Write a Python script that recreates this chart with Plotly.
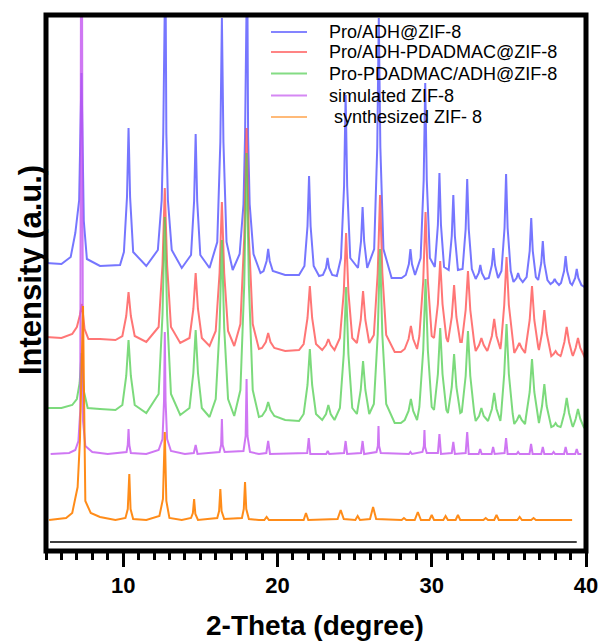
import plotly.graph_objects as go

# ---- data (2-Theta in degrees, intensity in arbitrary units) ----
NAMES = ["Pro/ADH@ZIF-8", "Pro/ADH-PDADMAC@ZIF-8", "Pro-PDADMAC/ADH@ZIF-8",
         "simulated ZIF-8", " synthesized ZIF- 8"]

BLUE_X = [5.0, 6.0, 6.6, 6.9, 7.15, 7.3, 7.45, 7.65, 8.5, 9.8,
          10.05, 10.25, 10.35, 10.45, 10.65, 11.5,
          12.25, 12.5, 12.6, 12.66, 12.74, 12.8, 12.9, 13.15, 13.8,
          14.4, 14.6, 14.7, 14.8, 15.0, 15.6,
          16.1, 16.3, 16.4, 16.5, 16.7, 17.1,
          17.55, 17.8, 17.9, 17.96, 18.04, 18.1, 18.2, 18.45, 18.9,
          19.1, 19.3, 19.4, 19.5, 19.7, 20.5, 21.4,
          21.75, 21.95, 22.05, 22.15, 22.35, 22.7,
          22.95, 23.15, 23.25, 23.35, 23.55, 23.85,
          24.12, 24.32, 24.42, 24.52, 24.72,
          25.22, 25.42, 25.52, 25.62, 25.82,
          26.27, 26.47, 26.57, 26.67, 26.87, 27.4, 28.05,
          28.32, 28.52, 28.62, 28.72, 28.92,
          29.28, 29.48, 29.58, 29.68, 29.88,
          30.2, 30.4, 30.5, 30.6, 30.8,
          31.1, 31.3, 31.4, 31.5, 31.7,
          32.0, 32.2, 32.3, 32.4, 32.6,
          32.85, 33.05, 33.15, 33.25, 33.45,
          33.7, 33.9, 34.0, 34.1, 34.3,
          34.52, 34.72, 34.82, 34.92, 35.12,
          35.3, 35.5, 35.6, 35.7, 35.9,
          36.15, 36.35, 36.45, 36.55, 36.75,
          36.9, 37.1, 37.2, 37.3, 37.5,
          37.7, 37.87, 37.97, 38.07, 38.25,
          38.38, 38.58, 38.68, 38.78, 38.98,
          39.1, 39.3, 39.4, 39.5, 39.7, 40.0]
BLUE_Y = [288, 287, 294, 318, 351, 478, 330, 292, 285, 286,
          299, 354, 423, 354, 299, 285,
          301, 351, 418, 600, 600, 418, 351, 301, 283,
          296, 350, 417, 350, 296, 283,
          309, 409, 533, 409, 309, 281,
          297, 347, 414, 600, 600, 414, 347, 297, 278,
          280, 290, 302, 290, 280, 276, 276,
          285, 325, 375, 325, 285, 275,
          276, 283, 293, 283, 276, 275,
          293, 365, 456, 365, 293,
          283, 310, 344, 310, 283,
          302, 404, 533, 404, 302, 273, 273,
          276, 287, 302, 287, 276,
          293, 371, 468, 371, 293,
          284, 326, 378, 326, 284,
          281, 315, 356, 315, 281,
          282, 322, 372, 322, 282,
          272, 278, 286, 278, 272,
          273, 286, 303, 286, 273,
          280, 323, 377, 323, 280,
          269, 273, 278, 273, 269,
          274, 300, 333, 300, 274,
          271, 288, 310, 288, 271,
          267, 269, 272, 269, 266,
          268, 280, 295, 280, 268,
          266, 273, 282, 273, 266, 263]

RED_X = [5.0, 6.0, 6.7, 7.0, 7.2, 7.33, 7.5, 7.75, 8.5, 9.5,
         9.95, 10.2, 10.35, 10.5, 10.75, 11.5,
         12.3, 12.55, 12.7, 12.85, 13.1, 13.7,
         14.3, 14.55, 14.7, 14.85, 15.1, 15.6,
         16.0, 16.25, 16.4, 16.55, 16.8, 17.2,
         17.6, 17.85, 18.0, 18.15, 18.4, 18.8,
         19.0, 19.25, 19.4, 19.55, 19.8, 20.5, 21.4,
         21.7, 21.95, 22.1, 22.25, 22.5,
         22.9, 23.15, 23.3, 23.45, 23.7,
         24.05, 24.3, 24.45, 24.6, 24.85,
         25.15, 25.4, 25.55, 25.7, 25.95,
         26.25, 26.5, 26.65, 26.8, 27.05, 27.6, 28.0,
         28.25, 28.5, 28.65, 28.8, 29.05,
         29.2, 29.45, 29.6, 29.75, 30.0,
         30.15, 30.4, 30.55, 30.7, 30.95,
         31.05, 31.3, 31.45, 31.6, 31.85,
         31.95, 32.2, 32.35, 32.5, 32.75,
         32.85, 33.07, 33.22, 33.37, 33.6,
         33.65, 33.9, 34.05, 34.2, 34.45,
         34.5, 34.7, 34.85, 35.0, 35.25,
         35.35, 35.53, 35.68, 35.83, 36.05,
         36.1, 36.35, 36.5, 36.65, 36.9,
         36.95, 37.15, 37.3, 37.45, 37.7,
         37.75, 37.9, 38.03, 38.15, 38.35,
         38.4, 38.6, 38.75, 38.9, 39.1,
         39.15, 39.33, 39.48, 39.63, 39.85, 40.0]
RED_Y = [214, 213, 217, 224, 236, 247, 222, 212, 212, 211,
         215, 235, 259, 235, 215, 209,
         224, 286, 363, 286, 224, 208,
         213, 242, 278, 242, 213, 205,
         220, 278, 349, 278, 220, 205,
         227, 314, 423, 314, 227, 202,
         203, 209, 218, 209, 203, 200, 201,
         207, 233, 265, 233, 207,
         201, 206, 212, 206, 201,
         213, 259, 318, 259, 213,
         208, 231, 260, 231, 208,
         216, 278, 356, 278, 216, 199, 199,
         202, 212, 225, 212, 202,
         215, 270, 339, 270, 215,
         213, 247, 290, 247, 213,
         209, 234, 266, 234, 209,
         209, 241, 280, 241, 209,
         200, 206, 213, 206, 200,
         202, 215, 232, 215, 202,
         208, 246, 294, 246, 208,
         198, 203, 208, 203, 198,
         204, 231, 265, 231, 204,
         201, 218, 241, 218, 201,
         195, 197, 200, 197, 195,
         197, 209, 224, 209, 197,
         195, 203, 213, 203, 195, 191]

GREEN_X = RED_X[:]
GREEN_X[2:8] = [6.7, 7.0, 7.18, 7.3, 7.45, 7.7]
GREEN_Y = [143, 143, 146, 152, 168, 198, 160, 143, 142, 141,
           146, 175, 211, 175, 146, 138,
           157, 236, 334, 236, 157, 136,
           143, 178, 221, 178, 143, 134,
           152, 223, 311, 223, 152, 135,
           161, 267, 398, 267, 161, 134,
           135, 141, 149, 141, 135, 131, 130,
           137, 166, 202, 166, 137,
           131, 137, 146, 137, 131,
           143, 197, 264, 197, 143,
           137, 161, 190, 161, 137,
           147, 216, 302, 216, 147, 128, 128,
           131, 140, 152, 140, 131,
           144, 201, 272, 201, 144,
           141, 177, 223, 177, 141,
           138, 164, 197, 164, 138,
           139, 175, 220, 175, 139,
           130, 135, 143, 135, 130,
           130, 142, 158, 142, 130,
           137, 177, 227, 177, 137,
           127, 131, 136, 131, 127,
           133, 159, 192, 159, 133,
           128, 145, 167, 145, 128,
           124, 125, 128, 125, 124,
           126, 138, 153, 138, 126,
           124, 132, 142, 132, 124, 121]

PURPLE_X = [5.3, 6.5, 6.9, 7.1, 7.22, 7.27, 7.33, 7.4, 7.55, 8.0, 9.0,
            10.22, 10.3, 10.35, 10.4, 10.5, 11.5,
            12.3, 12.55, 12.65, 12.7, 12.75, 12.85, 13.1, 14.0,
            14.58, 14.7, 14.82,
            16.25, 16.35, 16.4, 16.45, 16.58,
            17.8, 17.94, 18.0, 18.06, 18.22, 18.8,
            19.28, 19.4, 19.52,
            21.93, 22.03, 22.13,
            23.16, 23.26, 23.36,
            24.32, 24.42, 24.52,
            25.42, 25.52, 25.62,
            26.42, 26.51, 26.55, 26.59, 26.7,
            28.52, 28.62, 28.72,
            29.4, 29.49, 29.53, 29.57, 29.68,
            30.4, 30.5, 30.6,
            31.3, 31.4, 31.5,
            32.2, 32.3, 32.4,
            33.04, 33.14, 33.24,
            33.88, 33.98, 34.08,
            34.72, 34.82, 34.92,
            35.5, 35.6, 35.7,
            36.34, 36.44, 36.54,
            37.1, 37.2, 37.3,
            37.8, 37.9, 38.0,
            38.58, 38.68, 38.78,
            39.3, 39.4, 39.5, 39.7]
PURPLE_Y = [97, 98, 101, 110, 140, 600, 600, 130, 105, 99, 97,
            99, 106, 122, 106, 98, 97,
            101, 112, 150, 219, 150, 112, 100, 97,
            98, 106, 97,
            99, 106, 132, 106, 99,
            100, 115, 172, 115, 99, 97,
            98, 110, 97,
            98, 113, 97,
            97, 100, 97,
            98, 110, 97,
            98, 110, 97,
            99, 105, 125, 105, 98,
            97, 99, 97,
            99, 105, 121, 104, 98,
            98, 117, 97,
            98, 109, 97,
            98, 119, 97,
            97, 102, 97,
            97, 104, 97,
            98, 113, 97,
            97, 99, 97,
            97, 107, 97,
            97, 104, 97,
            97, 99, 97,
            97, 104, 97,
            97, 102, 97, 97]

ORANGE_X = [5.2, 6.3, 6.7, 7.05, 7.2, 7.32, 7.4, 7.47, 7.55, 7.9, 8.5, 9.5,
            10.15, 10.3, 10.4, 10.48, 10.65, 11.5,
            12.35, 12.58, 12.7, 12.8, 13.0, 13.8,
            14.4, 14.52, 14.6, 14.68, 14.85,
            16.1, 16.22, 16.3, 16.38, 16.55,
            17.7, 17.82, 17.9, 17.98, 18.15, 18.8,
            19.15, 19.3, 19.45,
            21.7, 21.85, 22.0,
            23.9, 24.1, 24.3,
            25.05, 25.2, 25.35,
            26.0, 26.2, 26.4,
            28.05, 28.2, 28.35,
            28.9, 29.1, 29.3,
            29.85, 30.0, 30.15,
            30.75, 30.9, 31.05,
            31.55, 31.7, 31.85,
            33.35, 33.5, 33.65,
            34.05, 34.2, 34.35,
            35.55, 35.7, 35.85,
            36.45, 36.6, 36.75,
            39.1]
ORANGE_Y = [31, 33, 38, 64, 111, 180, 245, 150, 50, 38, 34, 31,
            33, 42, 77, 42, 32, 31,
            35, 52, 119, 50, 33, 31,
            33, 38, 52, 37, 31,
            33, 40, 62, 40, 32,
            33, 42, 69, 42, 32, 31,
            31, 34, 31,
            31, 38, 31,
            32, 41, 32,
            31, 35, 31,
            32, 44, 32,
            31, 33, 31,
            31, 39, 31,
            31, 36, 31,
            31, 35, 31,
            31, 36, 31,
            31, 33, 31,
            31, 36, 31,
            31, 34, 31,
            31, 33, 31,
            31]

X_TICKS = [10, 20, 30, 40]
X_TITLE = "2-Theta (degree)"
Y_TITLE = "Intensity (a.u.)"
BASE_LINE_X = [5.26, 39.4]
BASE_LINE_Y = [9, 9]

COLORS = ["rgba(80,80,255,0.78)", "rgba(255,80,80,0.78)", "rgba(80,205,80,0.75)",
          "rgba(195,85,240,0.8)", "rgba(255,128,0,0.9)"]
LEGEND_COLORS = ["rgba(80,80,255,0.7)", "rgba(255,80,80,0.7)", "rgba(80,205,80,0.7)",
                 "rgba(195,85,240,0.7)", "rgba(255,140,30,0.6)"]

FONT = "Liberation Sans, Arial, sans-serif"

# plot area geometry (pixels) used to place the hand-drawn legend and titles
L, R, T, B = 46, 16, 15, 91
PW, PH = 602 - L - R, 642 - T - B
LEG_ROWS_PX = [32, 52, 73.5, 95.5, 117]
LEG_LINE_PX = (271, 307)
LEG_TEXT_PX = 327


def px_x(v):
    return (v - L) / PW


def px_y(v):
    return (T + PH - v) / PH


fig = go.Figure()
series = [(BLUE_X, BLUE_Y), (RED_X, RED_Y), (GREEN_X, GREEN_Y),
          (PURPLE_X, PURPLE_Y), (ORANGE_X, ORANGE_Y)]
for (xs, ys), name, col in zip(series, NAMES, COLORS):
    fig.add_trace(go.Scatter(x=xs, y=ys, mode="lines", name=name,
                             line=dict(color=col, width=2), showlegend=False))

fig.add_trace(go.Scatter(x=BASE_LINE_X, y=BASE_LINE_Y, mode="lines",
                         line=dict(color="black", width=1.5),
                         showlegend=False, hoverinfo="skip"))

shapes = [dict(type="rect", xref="paper", yref="paper", x0=0, x1=1, y0=0, y1=1,
               line=dict(color="black", width=5), layer="above")]
annotations = []
for name, col, ry in zip(NAMES, LEGEND_COLORS, LEG_ROWS_PX):
    shapes.append(dict(type="line", xref="paper", yref="paper",
                       x0=px_x(LEG_LINE_PX[0]), x1=px_x(LEG_LINE_PX[1]),
                       y0=px_y(ry), y1=px_y(ry),
                       line=dict(color=col, width=2)))
    annotations.append(dict(xref="paper", yref="paper", x=px_x(LEG_TEXT_PX), y=px_y(ry),
                            xanchor="left", yanchor="middle", showarrow=False,
                            text=name.replace(" ", "&nbsp;", 1) if name.startswith(" ") else name,
                            font=dict(family=FONT, size=18, color="black")))

annotations.append(dict(xref="paper", yref="paper", x=px_x(315), y=px_y(625),
                        xanchor="center", yanchor="middle", showarrow=False,
                        text=X_TITLE,
                        font=dict(family=FONT, size=28, color="black", weight="bold")))
annotations.append(dict(xref="paper", yref="paper", x=px_x(30), y=px_y(270),
                        xanchor="center", yanchor="middle", showarrow=False,
                        textangle=-90, text=Y_TITLE,
                        font=dict(family=FONT, size=31, color="black", weight="bold")))

fig.update_layout(
    width=602, height=642,
    margin=dict(l=L, r=R, t=T, b=B, autoexpand=False),
    paper_bgcolor="white", plot_bgcolor="white",
    font=dict(family=FONT, color="black"),
    showlegend=False,
    xaxis=dict(range=[5, 40], showgrid=False, zeroline=False, showline=False,
               automargin=False,
               tickvals=X_TICKS, ticktext=[str(v) for v in X_TICKS],
               ticks="outside", ticklen=15, tickwidth=3, tickcolor="black",
               minor=dict(dtick=1, tick0=0, ticks="outside", ticklen=8,
                          tickwidth=3, tickcolor="black"),
               tickfont=dict(family=FONT, size=22, color="black", weight="bold")),
    yaxis=dict(range=[0, PH], showgrid=False, zeroline=False, showline=False,
               automargin=False, showticklabels=False, ticks=""),
    shapes=shapes,
    annotations=annotations,
)

fig.write_html("out.html")
